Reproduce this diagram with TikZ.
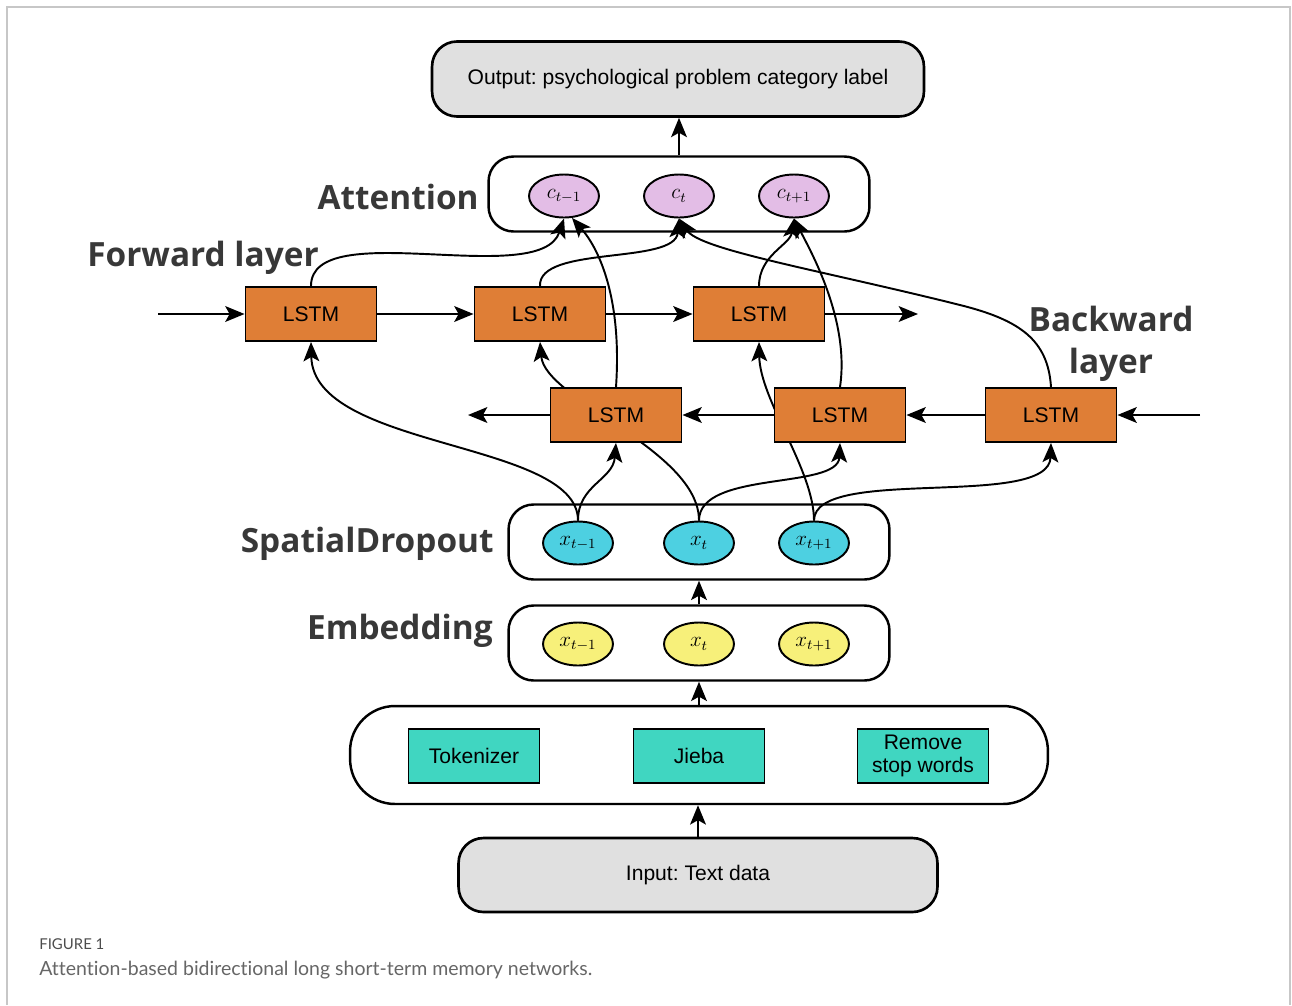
\documentclass[tikz,border=0pt]{standalone}
\usepackage{fontspec}
\setmainfont{Liberation Sans}
\newfontfamily\labelfont{Open Sans}
\newfontfamily\capfont{Lato}[Ligatures=NoCommon]
\usepackage{xcolor}
\usetikzlibrary{arrows.meta,shapes.geometric,backgrounds}
\frenchspacing

\definecolor{lstmorange}{HTML}{DF7E36}
\definecolor{tealbox}{HTML}{40D6C1}
\definecolor{attpurple}{HTML}{E3BDE6}
\definecolor{dropcyan}{HTML}{4DD0E1}
\definecolor{embyellow}{HTML}{F7F07A}
\definecolor{boxgrey}{HTML}{E0E0E0}
\definecolor{labelgrey}{HTML}{383838}
\definecolor{capgrey}{HTML}{666666}

\begin{document}
\begin{tikzpicture}[x=0.02cm,y=-0.02cm,
  every node/.style={font=\fontsize{12}{14}\selectfont},
  lstm/.style={draw,line width=1.1pt,fill=lstmorange,minimum width=2.62cm,minimum height=1.08cm,inner sep=0pt},
  prep/.style={draw,line width=1.1pt,fill=tealbox,minimum width=2.62cm,minimum height=1.08cm,inner sep=0pt,align=center,font=\fontsize{12}{13.5}\selectfont},
  io/.style={draw,line width=1.5pt,fill=boxgrey,rounded corners=0.5cm,inner sep=0pt},
  group/.style={draw,line width=1.4pt,rounded corners=0.5cm,inner sep=0pt,minimum width=7.62cm,minimum height=1.5cm},
  vec/.style={ellipse,draw,line width=1.1pt,minimum width=1.4cm,minimum height=0.86cm,inner sep=0pt,font=\fontsize{12}{14}\selectfont},
  layer/.style={font=\labelfont\bfseries\fontsize{19}{24}\selectfont,text=labelgrey,inner sep=0pt},
  flow/.style={-{Stealth[length=11pt,width=9pt,inset=2.5pt]},line width=1.1pt},
]
\useasboundingbox (0,0) rectangle (1292,1005);

% Frame
\draw[black!22,line width=0.6pt] (7,1005) -- (7,7) -- (1290,7) -- (1290,1005);

% Output
\node[io,minimum width=9.84cm,minimum height=1.5cm] (out) at (678,79) {Output: psychological problem category label};

% Attention
\node[group] (att) at (679,194) {};
\node[vec,fill=attpurple] (c1) at (564,196) {$c_{t-1}$};
\node[vec,fill=attpurple] (c2) at (679,196) {$c_t$};
\node[vec,fill=attpurple] (c3) at (794,196) {$c_{t+1}$};
\node[layer,anchor=east] (attlbl) at (479,197) {Attention};

% Forward layer
\node[layer,anchor=west] (fwlbl) at (87,258) {Forward layer};
\node[lstm] (f1) at (311,314) {LSTM};
\node[lstm] (f2) at (540,314) {LSTM};
\node[lstm] (f3) at (759,314) {LSTM};
\coordinate (fin) at (158,314);
\coordinate (fout) at (918,314);

% Backward layer
\node[layer,align=center] (bwlbl) at (1111,344) {Backward\\layer};
\node[lstm] (b1) at (616,415) {LSTM};
\node[lstm] (b2) at (840,415) {LSTM};
\node[lstm] (b3) at (1051,415) {LSTM};
\coordinate (bin) at (1200,415);
\coordinate (bout) at (468,415);

% SpatialDropout
\node[group] (drop) at (699,542) {};
\node[vec,fill=dropcyan] (d1) at (578,543) {$x_{t-1}$};
\node[vec,fill=dropcyan] (d2) at (699,543) {$x_t$};
\node[vec,fill=dropcyan] (d3) at (814,543) {$x_{t+1}$};
\node[layer,anchor=east] (droplbl) at (494,544) {SpatialDropout};

% Embedding
\node[group] (emb) at (699,643) {};
\node[vec,fill=embyellow] (e1) at (578,644) {$x_{t-1}$};
\node[vec,fill=embyellow] (e2) at (699,644) {$x_t$};
\node[vec,fill=embyellow] (e3) at (814,644) {$x_{t+1}$};
\node[layer,anchor=east] (emblbl) at (493,631) {Embedding};

% Preprocessing
\node[draw,line width=1.4pt,rounded corners=0.9cm,minimum width=13.96cm,minimum height=1.96cm] (prepro) at (699,755) {};
\node[prep] (tok) at (474,756) {Tokenizer};
\node[prep] (jieba) at (699,756) {Jieba};
\node[prep] (stop) at (923,756) {Remove\\stop words};

% Input
\node[io,minimum width=9.58cm,minimum height=1.48cm] (inp) at (698,875) {Input: Text data};

% Vertical flow
\draw[flow] (inp.north) -- (inp.north |- prepro.south);
\draw[flow] (prepro.north) -- (emb.south);
\draw[flow] (emb.north) -- (drop.south);
\draw[flow] (att.north) -- (att.north |- out.south);

% Recurrent connections
\draw[flow] (fin) -- (f1);
\draw[flow] (f1) -- (f2);
\draw[flow] (f2) -- (f3);
\draw[flow] (f3) -- (fout);
\draw[flow] (bin) -- (b3);
\draw[flow] (b3) -- (b2);
\draw[flow] (b2) -- (b1);
\draw[flow] (b1) -- (bout);

% LSTM to attention
\draw[flow] (f1.north) .. controls (311,215) and (540,290) .. (c1.south);
\draw[flow] (b1.north) .. controls (622,300) and (600,250) .. (c1.-70);
\draw[flow] (f2.north) .. controls (538,245) and (675,265) .. (c2.south);
\draw[flow] (b3.north) .. controls (1048,340) and (1020,320) .. (960,305) .. controls (820,270) and (700,250) .. (c2.south);
\draw[flow] (f3.north) .. controls (759,255) and (790,245) .. (c3.south);
\draw[flow] (b2.north) .. controls (850,320) and (810,250) .. (c3.south);

% Inputs to LSTMs
\draw[flow] (d1.north) .. controls (578,440) and (313,450) .. (f1.south);
\draw[flow] (d1.north) .. controls (578,485) and (613,480) .. (b1.south);
\draw[flow] (d2.north) .. controls (699,470) and (838,490) .. (b2.south);
\draw[flow] (d3.north) .. controls (814,465) and (1049,510) .. (b3.south);
\begin{scope}[on background layer]
\draw[flow] (d2.north) .. controls (699,450) and (545,400) .. (f2.south);
\draw[flow] (d3.north) .. controls (814,470) and (760,400) .. (f3.south);
\end{scope}

% Caption
\node[anchor=west,inner sep=0pt,font=\capfont\fontsize{8.5}{10}\selectfont,text=black!70] (figno) at (39,944) {FIGURE 1};
\node[anchor=west,inner sep=0pt,font=\capfont\fontsize{11.1}{13}\selectfont,text=capgrey] (figcap) at (39,970) {Attention-based bidirectional long short-term memory networks.};
\end{tikzpicture}
\end{document}
